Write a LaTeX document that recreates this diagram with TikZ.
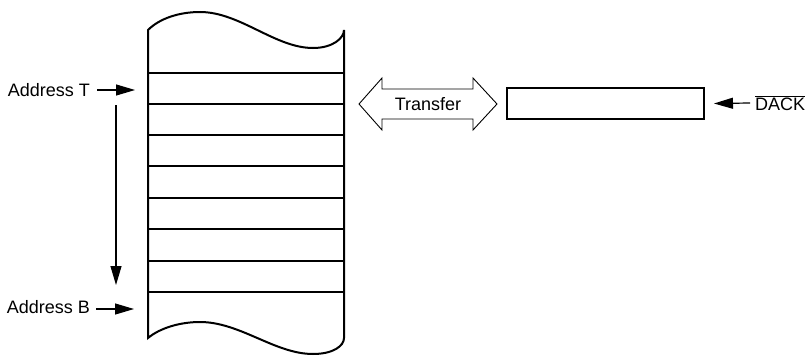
\documentclass[tikz,border=0pt]{standalone}
\usepackage{fontspec}
\setmainfont{Liberation Sans}
\usetikzlibrary{arrows.meta}
\begin{document}
\begin{tikzpicture}[x=1pt,y=-1pt,
  wall/.style={line width=2pt},
  ptr/.style={line width=1.2pt,-{Triangle[length=19pt,width=11pt]}},
  lbl/.style={font=\fontsize{18}{21}\selectfont, inner sep=0pt}]
\useasboundingbox (0,0) rectangle (808,356);
% memory column
\draw[wall] (148,30) .. controls (160,18) and (180,12) .. (200,12)
  .. controls (240,12) and (275,48) .. (313,48)
  .. controls (333,48) and (344,38) .. (344,30)
  -- (344,338)
  .. controls (344,346) and (333,354) .. (313,354)
  .. controls (275,354) and (240,322) .. (200,322)
  .. controls (180,322) and (160,328) .. (148,338) -- cycle;
\foreach \yy in {73,104,135,166,198,229,261,292}
  \draw[wall] (148,\yy) -- (344,\yy);
% labels
\node[lbl, anchor=east] (addrT) at (90,90) {Address T};
\coordinate (tT) at (135,90);
\draw[ptr] ([xshift=7pt]addrT.east) -- (tT);
\node[lbl, anchor=east] (addrB) at (90,307) {Address B};
\coordinate (tB) at (134,309);
\draw[ptr] ([xshift=6pt,yshift=-2pt]addrB.east) -- (tB);
\coordinate (vtop) at (116,105);
\coordinate (vbot) at (116,285);
\draw[ptr] (vtop) -- (vbot);
% transfer arrow
\draw[line width=0.9pt, line join=miter] (359,104) -- (382,78) -- (382,89) -- (473,89) -- (473,78) -- (497,104)
  -- (473,130) -- (473,119) -- (382,119) -- (382,130) -- cycle;
\node[lbl] (transfer) at (428,104) {Transfer};
% buffer
\node[draw, line width=2pt, minimum width=197pt, minimum height=31pt, inner sep=0pt] (buf) at (605.5,103.5) {};
\node[lbl, anchor=west] (dack) at (755,103) {$\overline{\hbox{DACK}}$};
\draw[ptr] ([xshift=-5pt]dack.west) -- ([xshift=9pt]buf.east);
\end{tikzpicture}
\end{document}
